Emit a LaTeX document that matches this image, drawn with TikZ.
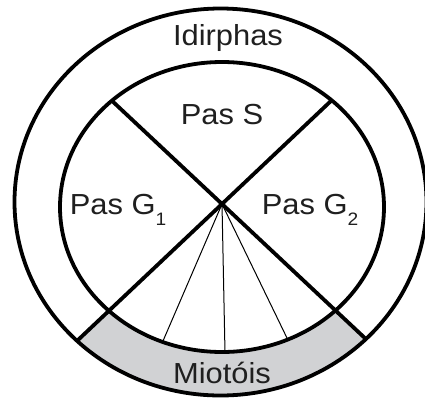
\documentclass[tikz,border=0pt]{standalone}
\usepackage{fontspec}
\setmainfont{Liberation Sans}
\usetikzlibrary{calc,intersections}
\definecolor{mgray}{HTML}{D1D2D4}
\newcommand{\lbl}[1]{\scalebox{1.065}[1]{\fontsize{29}{32}\selectfont #1}}
\newcommand{\sbs}[1]{\raisebox{-11pt}{\fontsize{18}{20}\selectfont #1}}
\begin{document}
\begin{tikzpicture}[x=1pt,y=-1pt,
  thick line/.style={line width=3.8pt},
  thin line/.style={line width=1pt},
  lab/.style={inner sep=0pt,text=black!88},
  outer ell/.style={x radius=206pt, y radius=193.5pt},
  inner ell/.style={x radius=162pt, y radius=145pt}]
\useasboundingbox (0,0) rectangle (425,399);
\coordinate (c) at (222,204);
\coordinate (oc) at (220.5,202);
\coordinate (ic) at (222,207);
\path[name path=outer] (oc) ellipse [outer ell];
\path[name path=inner] (ic) ellipse [inner ell];
% rays from the centre
\path[name path=rul] (c) -- ($(c)!1.4!(110,99)$);
\path[name path=rur] (c) -- ($(c)!1.4!(333,99)$);
\path[name path=rll] (c) -- ($(c)!1.4!(78,340)$);
\path[name path=rlr] (c) -- ($(c)!1.4!(368,341)$);
\path[name path=r1] (c) -- ($(c)!1.4!(163,341)$);
\path[name path=r2] (c) -- ($(c)!1.4!(225,352)$);
\path[name path=r3] (c) -- ($(c)!1.4!(287,338)$);
\path[name intersections={of=inner and rul, by=ul}];
\path[name intersections={of=inner and rur, by=ur}];
\path[name intersections={of=outer and rll, by=ll}];
\path[name intersections={of=outer and rlr, by=lr}];
\path[name intersections={of=inner and r1, by=t1}];
\path[name intersections={of=inner and r2, by=t2}];
\path[name intersections={of=inner and r3, by=t3}];
% gray band
\begin{scope}
  \clip (c) -- ($(c)!2!(ll)$) -- ($(c)!2!(lr)$) -- cycle;
  \fill[mgray] (oc) ellipse [outer ell];
  \fill[white] (ic) ellipse [inner ell];
\end{scope}
\draw[thin line] (c) -- (t1);
\draw[thin line] (c) -- (t2);
\draw[thin line] (c) -- (t3);
\draw[thick line] (ul) -- (c) -- (lr);
\draw[thick line] (ur) -- (c) -- (ll);
\draw[thick line] (oc) ellipse [outer ell];
\draw[thick line] (ic) ellipse [inner ell];
\node[lab,anchor=base] (idir) at (228,45) {\lbl{Idirphas}};
\node[lab,anchor=base] (pass) at (222,124) {\lbl{Pas S}};
\node[lab,anchor=base] (pasg1) at (118,214) {\lbl{Pas G\sbs{1}}};
\node[lab,anchor=base] (pasg2) at (310,214) {\lbl{Pas G\sbs{2}}};
\node[lab,anchor=base] (mit) at (222,383) {\lbl{Miotóis}};
\end{tikzpicture}
\end{document}
